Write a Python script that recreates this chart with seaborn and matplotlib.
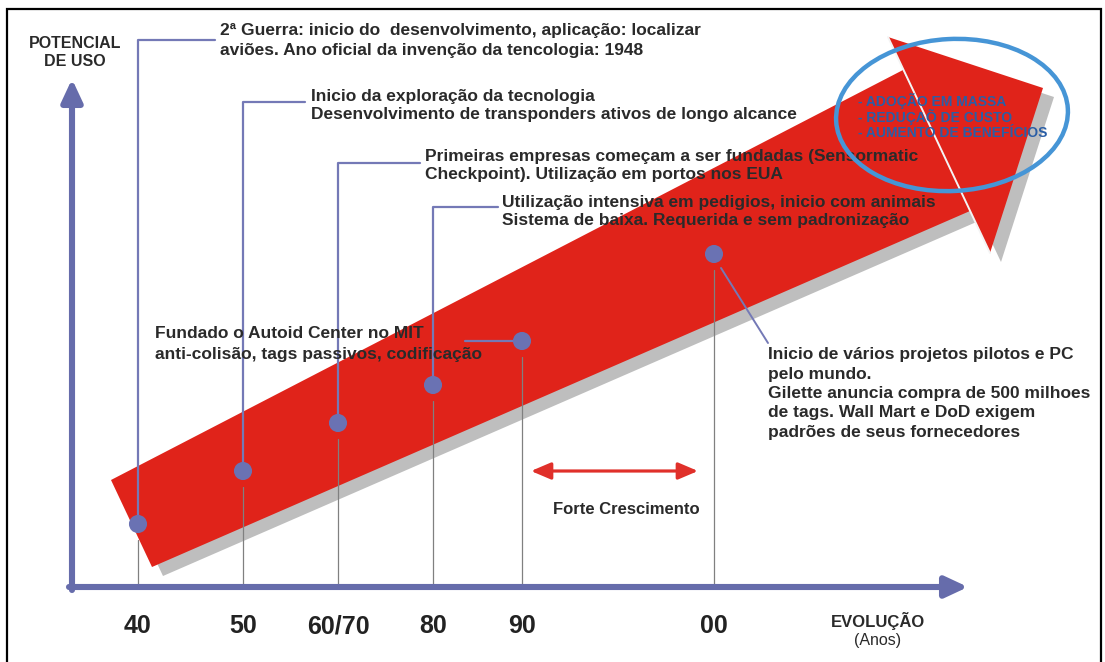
import matplotlib
matplotlib.use("Agg")
import matplotlib.pyplot as plt
from matplotlib.patches import Polygon, Ellipse, Rectangle
import pandas as pd
import seaborn as sns

# Milestones of the RFID evolution timeline
decadas = ["40", "50", "60/70", "80", "90", "00"]
posicao = [66, 171, 266, 361, 450, 642]        # place on the "Evolução" axis
potencial = [63, 116, 164, 202, 246, 333]      # height on the "Potencial de uso" axis

eventos = [
    ["2ª Guerra: inicio do  desenvolvimento, aplicação: localizar",
     "aviões. Ano oficial da invenção da tencologia: 1948"],
    ["Inicio da exploração da tecnologia",
     "Desenvolvimento de transponders ativos de longo alcance"],
    ["Primeiras empresas começam a ser fundadas (Sensormatic",
     "Checkpoint). Utilização em portos nos EUA"],
    ["Utilização intensiva em pedigios, inicio com animais",
     "Sistema de baixa. Requerida e sem padronização"],
    ["Fundado o Autoid Center no MIT",
     "anti-colisão, tags passivos, codificação"],
    ["Inicio de vários projetos pilotos e PC",
     "pelo mundo.",
     "Gilette anuncia compra de 500 milhoes",
     "de tags. Wall Mart e DoD exigem",
     "padrões de seus fornecedores"],
]
beneficios = ["- ADOÇÃO EM MASSA", "- REDUÇAÕ DE CUSTO", "- AUMENTO DE BENEFÍCIOS"]

df = pd.DataFrame({"decada": decadas, "posicao": posicao, "potencial": potencial})

sns.set_theme(style="white")
plt.rcParams["font.family"] = ["Liberation Sans", "DejaVu Sans"]

W, H = 1105, 662
X0, Y0 = 72, 587          # figure pixel of the axes origin


def P(px, py):
    """Figure pixel (from top-left) -> data coordinates."""
    return (px - X0, Y0 - py)


def pts(seq):
    return [P(x, y) for x, y in seq]


RED = "#e0231a"
SHADOW = "#bebebe"
SLATE = "#666cab"
LINK = "#7479b6"
TXT = "#2a2a2a"
BLUE_TXT = "#2a5ea6"

fig = plt.figure(figsize=(W / 100, H / 100), dpi=100)
ax = fig.add_axes([0, 0, 1, 1])
ax.set_xlim(-X0, W - X0)
ax.set_ylim(-(H - Y0), Y0)
ax.axis("off")

# outer frame
ax.add_patch(Rectangle(P(7, 675), 1094, 666, fill=False, ec="black", lw=1.6, zorder=20))

# growth arrow: shadow, body, head
body = [(111, 480), (152, 567), (970, 211), (903, 70)]
head = [(888, 37), (1043, 88), (990, 253)]
dx, dy = 11, 9
for shape in (body, head):
    ax.add_patch(Polygon(pts([(x + dx, y + dy) for x, y in shape]), closed=True,
                         fc=SHADOW, ec="none", zorder=1))
ax.add_patch(Polygon(pts(body), closed=True, fc=RED, ec="none", zorder=2))
ax.add_patch(Polygon(pts(head), closed=True, fc=RED, ec="none", zorder=3))
ax.plot(*zip(*pts([(888, 37), (990, 253)])), color="#f4f4f4", lw=1.4, zorder=3.5)

# axes arrows
arrow_kw = dict(arrowstyle="-|>,head_length=0.9,head_width=0.42", lw=4.4,
                color=SLATE, mutation_scale=15, shrinkA=0, shrinkB=0)
ax.annotate("", xy=P(72, 79), xytext=P(72, 590), arrowprops=arrow_kw, zorder=6)
ax.annotate("", xy=P(968, 587), xytext=P(69, 587), arrowprops=arrow_kw, zorder=6)

# connectors from each milestone to its description
elbows = [(40, 215), (102, 305), (163, 420), (207, 498)]
for i, (ey, ex) in enumerate(elbows):
    px, py = posicao[i] + X0, Y0 - potencial[i]
    ax.plot(*zip(*pts([(px, py), (px, ey), (ex, ey)])), color=LINK, lw=1.6, zorder=7)
px5, py5 = posicao[4] + X0, Y0 - potencial[4]
ax.plot(*zip(*pts([(465, py5), (px5, py5)])), color=LINK, lw=1.6, zorder=7)
px6, py6 = posicao[5] + X0, Y0 - potencial[5]
ax.plot(*zip(*pts([(px6 + 7, py6 + 14), (768, 343)])), color=LINK, lw=1.4, zorder=7)

# drop lines from each milestone to the time axis
for x, y in zip(posicao, potencial):
    ax.plot([x, x], [0, y - 16], color="#808080", lw=0.9, zorder=5)

# milestones
sns.scatterplot(data=df, x="posicao", y="potencial", ax=ax, s=170, color="#6a72b3",
                edgecolor="none", legend=False, zorder=9)
ax.set_xlim(-X0, W - X0)
ax.set_ylim(-(H - Y0), Y0)

# descriptions
anchors = [(220, 31), (311, 96), (425, 157), (502, 202), (155, 333), (768, 355)]
steps = [19, 18, 18, 18, 21, 19.3]
for lines, (tx, ty), st in zip(eventos, anchors, steps):
    for k, line in enumerate(lines):
        ax.text(*P(tx, ty + k * st), line, ha="left", va="center", fontsize=12.5,
                fontweight="bold", color=TXT, zorder=10)

# decade labels on the time axis
for x, lab in zip(posicao, decadas):
    ax.text(x, P(0, 626)[1], lab, ha="center", va="center", fontsize=18,
            fontweight="bold", color="#222222", zorder=10)

# axis titles
ax.text(*P(75, 44), "POTENCIAL", ha="center", va="center", fontsize=11.5,
        fontweight="bold", color=TXT, zorder=10)
ax.text(*P(75, 62), "DE USO", ha="center", va="center", fontsize=11.5,
        fontweight="bold", color=TXT, zorder=10)
ax.text(*P(878, 621), "EVOLUÇÃO", ha="center", va="center", fontsize=12,
        fontweight="bold", color=TXT, zorder=10)
ax.text(*P(878, 640), "(Anos)", ha="center", va="center", fontsize=11.5,
        color=TXT, zorder=10)

# strong-growth span
ax.annotate("", xy=P(698, 471), xytext=P(531, 471),
            arrowprops=dict(arrowstyle="<|-|>,head_length=0.8,head_width=0.34", lw=2.3,
                            color="#e0302a", mutation_scale=15, shrinkA=0, shrinkB=0),
            zorder=8)
ax.text(*P(626, 510), "Forte Crescimento", ha="center", va="center", fontsize=12,
        fontweight="bold", color=TXT, zorder=10)

# highlighted benefits
ax.add_patch(Ellipse(P(952, 115), 232, 152, angle=3, fill=False, ec="#4695d6",
                     lw=3.2, zorder=11))
for k, b in enumerate(beneficios):
    ax.text(*P(858, 101 + k * 16), b, ha="left", va="center", fontsize=10,
            fontweight="bold", color=BLUE_TXT, zorder=12)

fig.savefig("out.png", dpi=100)
